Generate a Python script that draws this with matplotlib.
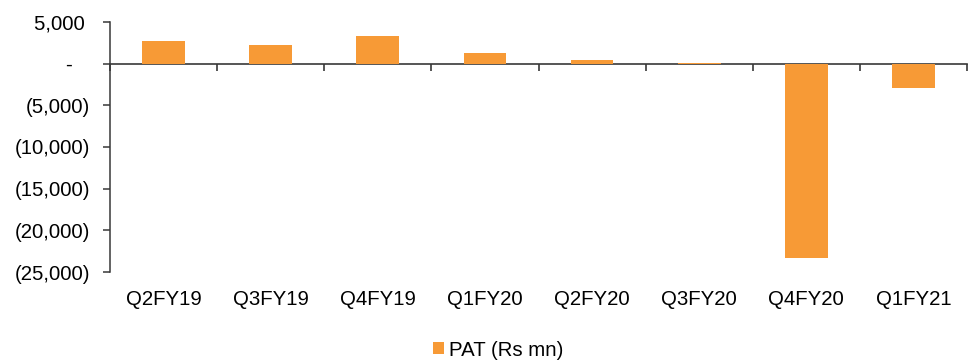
import numpy as np
import matplotlib.pyplot as plt
from matplotlib.ticker import FuncFormatter, FixedLocator

plt.rcParams['font.family'] = ['Liberation Sans', 'DejaVu Sans']

quarters = ['Q2FY19', 'Q3FY19', 'Q4FY19', 'Q1FY20', 'Q2FY20', 'Q3FY20', 'Q4FY20', 'Q1FY21']
pat = [2680, 2230, 3310, 1270, 460, 60, -23280, -2920]

bar_color = '#F79A36'
axis_color = '#383838'
fs = 14.7


def rs_fmt(v, pos):
    # accounting style: brackets for losses, dash for nil, padded so digits line up
    if v == 0:
        return '-   '
    if v < 0:
        return f'({abs(v):,.0f})'
    return f'{v:,.0f} '


fig = plt.figure(figsize=(9.76, 3.63), dpi=100)
ax = fig.add_axes([110 / 976, 91 / 363, 857 / 976, 250 / 363])

x = np.arange(len(quarters))
bars = ax.bar(x, pat, width=0.4, color=bar_color, label='PAT (Rs mn)', zorder=2)

ax.set_xlim(-0.5, len(quarters) - 0.5)
ax.set_ylim(-25000, 5000)
ax.set_yticks(np.arange(-25000, 5001, 5000))
ax.yaxis.set_major_formatter(FuncFormatter(rs_fmt))
ax.tick_params(axis='y', direction='out', length=5, width=1.1, color=axis_color,
               labelsize=fs, pad=9.4)

# category labels sit under the plot, the axis line itself runs through zero
ax.set_xticks(x)
ax.set_xticklabels(quarters)
ax.tick_params(axis='x', length=0, labelsize=fs, pad=13)

for side in ['top', 'right', 'bottom']:
    ax.spines[side].set_visible(False)
ax.spines['left'].set_color(axis_color)
ax.spines['left'].set_linewidth(1.1)

zero_axis = ax.secondary_xaxis(0, transform=ax.transData)
zero_axis.xaxis.set_major_locator(FixedLocator(np.arange(-0.5, len(quarters), 1.0)))
zero_axis.set_xticklabels([])
zero_axis.tick_params(direction='out', length=5, width=1.2, color=axis_color)
zero_axis.spines['bottom'].set_color(axis_color)
zero_axis.spines['bottom'].set_linewidth(1.2)

ax.legend(loc='center', bbox_to_anchor=(498 / 976, 13 / 363),
          bbox_transform=fig.transFigure, frameon=False, fontsize=fs,
          handlelength=0.55, handleheight=0.55, handletextpad=0.25)

fig.savefig('out.png', dpi=100)
